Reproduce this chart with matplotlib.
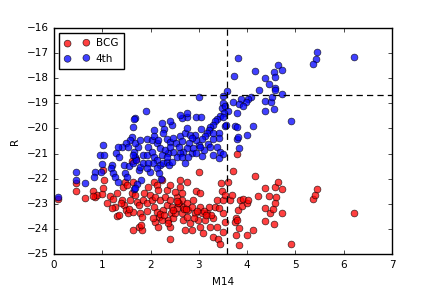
import matplotlib
matplotlib.use("Agg")
import matplotlib.pyplot as plt

# ------------------------------------------------------------
# data
# ------------------------------------------------------------
bcg_m14 = [
    0.09, 0.46, 0.46, 0.64, 0.81, 0.85, 0.88, 0.99, 1.01, 1.01, 1.04, 1.16,
    1.23, 1.26, 1.31, 1.35, 1.30, 1.40, 1.42, 1.45, 1.49, 1.54, 1.57, 1.61,
    1.47, 1.51, 1.64, 1.68, 1.71, 1.75, 1.78, 1.82, 1.64, 1.75, 1.82, 1.80,
    1.64, 1.85, 1.92, 1.86, 1.95, 1.99, 2.02, 2.06, 2.07, 2.13, 2.09, 2.16,
    2.19, 2.13, 2.18, 2.23, 2.09, 2.16, 2.26, 2.33, 2.30, 2.33, 2.23, 2.40,
    2.40, 2.44, 2.42, 2.37, 2.40, 2.40, 2.47, 2.50, 2.54, 2.58, 2.54, 2.50,
    2.61, 2.61, 2.64, 2.66, 2.68, 2.64, 2.68, 2.71, 2.75, 2.76, 2.78, 2.75,
    2.82, 2.85, 2.85, 2.92, 2.88, 2.95, 3.02, 3.00, 3.02, 3.06, 2.99, 3.02,
    3.09, 3.13, 3.16, 3.20, 3.23, 3.29, 3.30, 3.33, 3.37, 3.37, 3.40, 3.45,
    3.47, 3.51, 3.51, 3.54, 3.49, 3.44, 3.61, 3.64, 3.68, 3.71, 3.80, 3.77,
    3.74, 3.80, 3.77, 3.84, 3.84, 3.82, 3.85, 3.89, 3.92, 3.99, 4.02, 3.99,
    4.13, 4.16, 4.23, 4.37, 4.46, 4.37, 4.38, 4.47, 4.54, 4.58, 4.56, 4.60,
    4.58, 4.63, 4.73, 4.73, 4.91, 5.36, 5.41, 5.44, 6.22,
    1.62, 1.70, 1.38, 1.55, 2.20, 2.35, 2.70, 2.90, 3.10, 3.25, 1.92, 2.05,
    2.28, 2.46, 2.57, 2.73, 2.96, 3.15, 3.42, 1.20, 1.10, 0.80, 3.55, 2.55,
]
bcg_r = [
    -22.82, -22.16, -22.48, -22.78, -22.49, -22.72, -22.65, -22.61, -22.38,
    -21.65, -22.05, -22.69, -22.82, -23.11, -23.49, -23.45, -22.56, -22.85,
    -22.32, -23.05, -23.25, -23.38, -22.85, -22.58, -22.12, -22.25, -22.12,
    -22.65, -22.92, -23.05, -23.38, -23.51, -24.05, -23.91, -24.05, -23.85,
    -23.32, -22.85, -22.98, -22.58, -22.32, -22.65, -22.85, -23.11, -22.12,
    -22.25, -22.72, -22.45, -22.85, -23.32, -23.51, -23.65, -23.72, -23.91,
    -23.25, -23.05, -22.72, -22.45, -22.05, -22.25, -22.85, -23.11, -23.38,
    -23.65, -23.91, -24.42, -23.58, -23.38, -23.18, -22.98, -22.72, -22.52,
    -22.32, -22.05, -22.56, -22.85, -23.11, -23.38, -23.65, -24.05, -22.12,
    -22.98, -23.25, -23.51, -23.78, -24.05, -23.11, -23.38, -22.85, -22.48,
    -22.58, -21.72, -23.11, -23.38, -23.65, -23.91, -24.18, -23.65, -23.38,
    -23.11, -23.91, -24.31, -23.58, -23.11, -22.85, -23.91, -24.42, -22.18,
    -22.51, -22.85, -23.38, -23.72, -24.11, -24.60, -22.12, -22.85, -22.65,
    -21.68, -21.01, -23.58, -23.72, -23.65, -24.25, -24.64, -23.98, -23.25,
    -22.85, -23.08, -22.82, -22.95, -22.85, -24.25, -24.05, -21.88, -22.69,
    -22.36, -22.69, -23.18, -23.68, -23.38, -23.22, -22.98, -23.81, -22.72,
    -22.32, -22.12, -22.41, -23.35, -24.62, -22.81, -22.65, -22.41, -23.38,
    -21.30, -21.20, -22.95, -23.20, -23.40, -23.75, -23.20, -23.55, -23.30,
    -23.45, -23.30, -23.55, -23.45, -23.25, -22.95, -23.20, -23.30, -23.45,
    -23.15, -23.15, -22.95, -22.70, -22.65, -22.90,
]

fourth_m14 = [
    6.22, 5.45, 5.42, 5.37, 3.81, 3.73, 4.16, 4.63, 4.73, 4.56, 4.58, 4.37,
    4.46, 4.24, 4.58, 4.58, 4.73, 4.38, 4.49, 4.52, 4.56, 4.37, 4.09, 4.02,
    3.97, 3.87, 3.70, 3.84, 3.92, 3.80, 3.99, 4.13, 4.91, 3.59, 3.49, 3.00,
    3.49, 3.47, 3.55, 3.60, 3.52, 3.44, 3.38, 3.33, 3.30, 3.24, 3.20, 3.16,
    3.12, 3.07, 3.04, 2.95, 3.04, 3.54, 3.57, 3.75, 3.80, 3.78, 3.81, 3.84,
    3.49, 3.42, 3.41, 3.30, 3.29, 3.18, 3.23, 3.37, 3.44, 3.49, 3.42, 3.30,
    3.06, 3.11, 3.00, 2.95, 2.92, 2.75, 2.75, 2.64, 2.61, 2.44, 2.40, 2.27,
    2.23, 2.06, 1.90, 1.68, 1.64, 1.66, 1.62, 1.57, 1.49, 1.54, 1.40, 1.33,
    1.01, 0.95, 1.04, 1.00, 1.19, 1.17, 1.28, 1.35, 1.23, 1.27, 1.33, 1.47,
    1.52, 1.44, 1.56, 1.64, 1.68, 1.66, 1.73, 1.68, 1.77, 1.75, 1.78, 1.85,
    1.99, 1.81, 1.72, 1.66, 1.70, 1.63, 1.68, 0.46, 0.46, 0.64, 0.84, 0.82,
    0.97, 0.09, 1.85, 1.92, 1.95, 1.92, 2.02, 2.06, 2.13, 2.19, 2.02, 2.07,
    2.14, 2.04, 2.19, 2.26, 2.33, 2.39, 2.44, 2.16, 2.26, 2.33, 2.40, 2.47,
    2.53, 2.58, 2.61, 2.66, 2.71, 2.76, 2.82, 2.85, 2.80, 2.75, 2.68, 2.61,
    2.54, 2.47, 2.37, 2.30, 2.23, 2.33, 2.71, 2.66, 2.85, 2.88, 2.78, 2.95,
    2.40, 1.95, 1.92, 2.13, 2.18, 2.21, 3.02,
]
fourth_r = [
    -17.17, -16.96, -17.24, -17.44, -17.20, -17.93, -17.73, -17.46, -17.67,
    -17.77, -17.96, -18.00, -18.22, -18.46, -18.39, -18.47, -18.63, -18.89,
    -18.93, -18.75, -19.23, -19.30, -18.75, -18.83, -18.93, -18.82, -18.95,
    -19.02, -19.10, -19.39, -20.26, -19.90, -19.72, -18.53, -18.70, -18.73,
    -19.00, -19.20, -19.10, -19.32, -19.39, -19.50, -19.63, -19.72, -19.86,
    -19.95, -20.06, -20.19, -20.32, -20.43, -20.03, -19.55, -19.55, -19.92,
    -19.86, -19.90, -19.95, -20.43, -20.36, -20.79, -19.56, -20.19, -20.39,
    -20.43, -20.19, -20.61, -20.72, -20.72, -20.92, -21.01, -21.18, -21.05,
    -21.09, -20.85, -20.65, -20.45, -20.26, -19.55, -19.39, -19.59, -19.46,
    -19.86, -19.72, -20.03, -19.79, -20.08, -19.32, -19.59, -19.96, -19.63,
    -20.36, -20.45, -20.59, -20.72, -20.72, -20.72, -20.64, -21.05, -21.05,
    -21.41, -21.45, -21.59, -20.97, -21.12, -21.78, -21.92, -22.12, -21.78,
    -21.92, -21.45, -21.49, -21.36, -21.12, -20.92, -20.72, -20.59, -20.45,
    -21.65, -21.52, -21.39, -21.72, -22.05, -22.21, -22.42, -21.26, -21.05,
    -22.38, -21.72, -22.05, -22.16, -21.72, -21.92, -21.72, -22.72, -21.05,
    -21.05, -20.72, -20.43, -20.45, -20.32, -20.59, -20.79, -20.92, -21.12,
    -21.26, -21.39, -21.45, -21.39, -21.32, -21.45, -21.32, -20.45, -20.19,
    -20.43, -20.56, -20.39, -20.59, -20.72, -20.32, -20.52, -20.19, -19.99,
    -20.26, -20.39, -20.59, -20.79, -20.92, -20.99, -21.12, -20.92, -20.99,
    -20.85, -21.05, -21.12, -21.39, -21.12, -20.99, -20.79, -21.12, -20.99,
    -20.72, -21.39, -21.59, -21.59, -21.78, -22.02, -20.72,
]

m14_cut = 3.59
r_cut = -18.65

# ------------------------------------------------------------
# style
# ------------------------------------------------------------
plt.style.use("classic")
plt.rcParams["font.family"] = "DejaVu Sans"
plt.rcParams["font.size"] = 7.5
plt.rcParams["figure.facecolor"] = "white"
plt.rcParams["savefig.facecolor"] = "white"

fig = plt.figure(figsize=(4.36, 2.91), dpi=100)
ax = fig.add_axes([0.124, 0.127, 0.775, 0.777])

ax.scatter(bcg_m14, bcg_r, s=24, c="red", alpha=0.75,
           edgecolors="black", linewidths=0.5, label="BCG", zorder=2)
ax.scatter(fourth_m14, fourth_r, s=24, c="blue", alpha=0.75,
           edgecolors="black", linewidths=0.5, label="4th", zorder=3)

ax.axvline(m14_cut, color="black", linestyle=(0, (4.5, 3)), linewidth=0.9, zorder=4)
ax.axhline(r_cut, color="black", linestyle=(0, (4.5, 3)), linewidth=0.9, zorder=4)

ax.set_xlim(0, 7)
ax.set_ylim(-25, -16)
ax.set_xlabel("M14", fontsize=7.5)
ax.set_ylabel("R", fontsize=7.5)
ax.tick_params(labelsize=7.5, length=3)

leg = ax.legend(loc="upper left", scatterpoints=2, fontsize=7.5,
                frameon=True, fancybox=False, borderpad=0.55,
                handlelength=2.4, handletextpad=0.6, labelspacing=0.5,
                borderaxespad=0.45)
leg.get_frame().set_edgecolor("black")

fig.savefig("out.png", dpi=100)
